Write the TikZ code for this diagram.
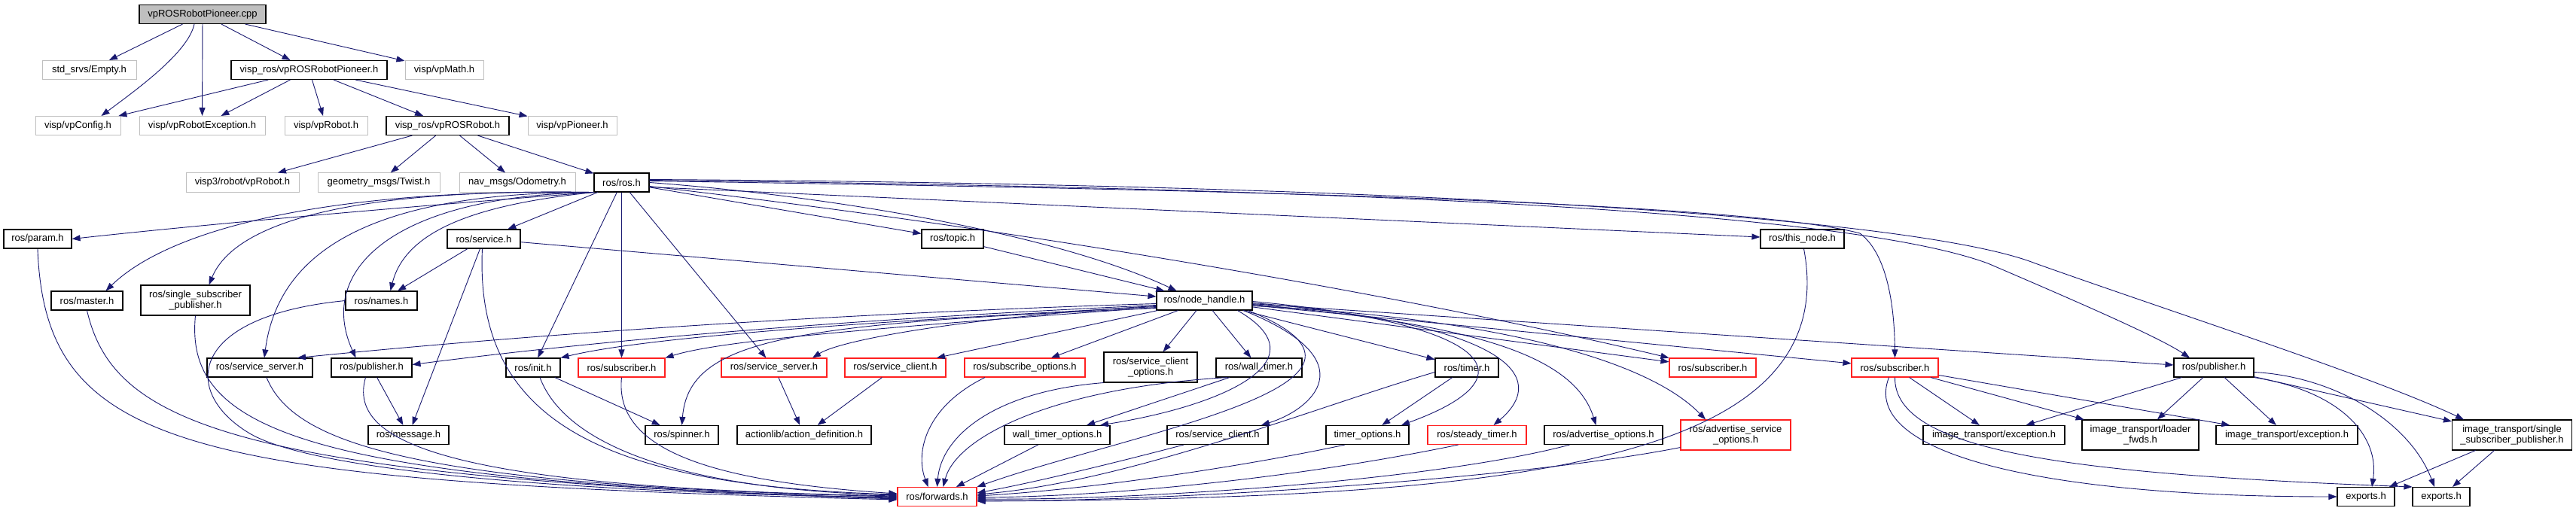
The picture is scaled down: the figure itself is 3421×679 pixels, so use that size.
\documentclass[tikz,border=0pt]{standalone}
\usepackage{fontspec}
\setmainfont{Liberation Sans}
\usetikzlibrary{arrows.meta}
\definecolor{edgeblue}{HTML}{191970}
\definecolor{greyline}{HTML}{BFBFBF}
\definecolor{redline}{HTML}{FF2020}
\newcommand\nodefont{\fontsize{13}{14}\selectfont}
\begin{document}
\begin{tikzpicture}[x=1pt,y=-1pt,
  box/.style={rectangle, minimum height=25pt, inner sep=0pt, font=\nodefont, text=black},
  bk/.style={box, draw=black, line width=1.1pt},
  gy/.style={box, draw=greyline, line width=1pt},
  rd/.style={box, draw=redline, line width=1.1pt},
  twoline/.style={minimum height=40pt, align=center},
  e/.style={draw=edgeblue, line width=0.9pt, -{Triangle[length=11pt,width=8pt]}}]
\useasboundingbox (0,0) rectangle (3421,679);
\fill[white] (0,0) rectangle (3421,679);
% ---------- nodes ----------
\node[bk,fill=greyline,minimum width=168pt] (cpp) at (269,19) {vpROSRobotPioneer.cpp};
\node[gy,minimum width=125pt] (empty) at (118.5,93) {std\_srvs/Empty.h};
\node[bk,minimum width=207pt] (pioneerh) at (410.5,93) {visp\_ros/vpROSRobotPioneer.h};
\node[gy,minimum width=104pt] (vpmath) at (590,93) {visp/vpMath.h};
\node[gy,minimum width=113pt] (vpconfig) at (103.5,167) {visp/vpConfig.h};
\node[gy,minimum width=167pt] (vprobexc) at (268.5,167) {visp/vpRobotException.h};
\node[gy,minimum width=110pt] (vprobot) at (433,167) {visp/vpRobot.h};
\node[bk,minimum width=163pt] (rosrobot) at (594.5,167) {visp\_ros/vpROSRobot.h};
\node[gy,minimum width=118pt] (vppioneer) at (760,167) {visp/vpPioneer.h};
\node[gy,minimum width=150pt] (visp3) at (322,242.5) {visp3/robot/vpRobot.h};
\node[gy,minimum width=162pt] (twist) at (503,242.5) {geometry\_msgs/Twist.h};
\node[gy,minimum width=154pt] (odom) at (687,242.5) {nav\_msgs/Odometry.h};
\node[bk,minimum width=73pt] (rosh) at (825.5,242.5) {ros/ros.h};
\node[bk,minimum width=90pt] (param) at (50,317.5) {ros/param.h};
\node[bk,minimum width=97pt] (service) at (642.5,317.5) {ros/service.h};
\node[bk,minimum width=82pt] (topic) at (1265,317.5) {ros/topic.h};
\node[bk,minimum width=111pt] (thisnode) at (2393.5,317.5) {ros/this\_node.h};
\node[bk,minimum width=95pt] (master) at (115.5,399.5) {ros/master.h};
\node[bk,twoline,minimum width=145pt] (ssp) at (259.5,399) {ros/single\_subscriber\\\_publisher.h};
\node[bk,minimum width=95pt] (names) at (506.5,399.5) {ros/names.h};
\node[bk,minimum width=127pt] (nh) at (1599.5,399.5) {ros/node\_handle.h};
\node[bk,minimum width=140pt] (ssrv) at (345,488.5) {ros/service\_server.h};
\node[bk,minimum width=107pt] (pubL) at (493.5,488.5) {ros/publisher.h};
\node[bk,minimum width=72pt] (init) at (708,488.5) {ros/init.h};
\node[rd,minimum width=115pt] (subL) at (825.5,488.5) {ros/subscriber.h};
\node[rd,minimum width=140pt] (ssrvR) at (1028,488.5) {ros/service\_server.h};
\node[rd,minimum width=134pt] (sclR) at (1189,488.5) {ros/service\_client.h};
\node[rd,minimum width=160pt] (subopt) at (1361,488.5) {ros/subscribe\_options.h};
\node[bk,twoline,minimum width=124pt] (sclopt) at (1528,488) {ros/service\_client\\\_options.h};
\node[bk,minimum width=114pt] (walltimer) at (1672,488.5) {ros/wall\_timer.h};
\node[bk,minimum width=84pt] (timer) at (1948,488.5) {ros/timer.h};
\node[rd,minimum width=115pt] (subM) at (2274.5,488.5) {ros/subscriber.h};
\node[rd,minimum width=115pt] (subR) at (2516.5,488.5) {ros/subscriber.h};
\node[bk,minimum width=106pt] (pubR) at (2940,488.5) {ros/publisher.h};
\node[bk,minimum width=107pt] (message) at (542.5,578) {ros/message.h};
\node[bk,minimum width=97pt] (spinner) at (905.5,578) {ros/spinner.h};
\node[bk,minimum width=178pt] (actionlib) at (1068,578) {actionlib/action\_definition.h};
\node[bk,minimum width=140pt] (wto) at (1404,578) {wall\_timer\_options.h};
\node[bk,minimum width=134pt] (scl) at (1617,578) {ros/service\_client.h};
\node[bk,minimum width=110pt] (tto) at (1816,578) {timer\_options.h};
\node[rd,minimum width=131pt] (steady) at (1961.5,578) {ros/steady\_timer.h};
\node[bk,minimum width=157pt] (advopt) at (2129.5,578) {ros/advertise\_options.h};
\node[rd,twoline,minimum width=146pt] (advsrv) at (2305,578) {ros/advertise\_service\\\_options.h};
\node[bk,minimum width=188pt] (itexc1) at (2648,578) {image\_transport/exception.h};
\node[bk,twoline,minimum width=155pt] (loader) at (2842.5,578) {image\_transport/loader\\\_fwds.h};
\node[bk,minimum width=188pt] (itexc2) at (3037,578) {image\_transport/exception.h};
\node[bk,twoline,minimum width=159pt] (itssp) at (3336,578) {image\_transport/single\\\_subscriber\_publisher.h};
\node[rd,minimum width=105pt] (fwd) at (1244.5,660) {ros/forwards.h};
\node[bk,minimum width=76pt] (exp1) at (3142,660) {exports.h};
\node[bk,minimum width=76pt] (exp2) at (3242,660) {exports.h};
% ---------- top edges ----------
\draw[e] (cpp) -- (empty);
\draw[e] ([xshift=-11pt]cpp.south) .. controls (250,70) and (180,120) .. ([xshift=31pt]vpconfig.north);
\draw[e] (cpp) -- (vprobexc);
\draw[e] (cpp) -- (pioneerh);
\draw[e] (cpp) -- (vpmath);
\draw[e] (pioneerh) -- (vpconfig);
\draw[e] (pioneerh) -- (vprobexc);
\draw[e] (pioneerh) -- (vprobot);
\draw[e] (pioneerh) -- (rosrobot);
\draw[e] (pioneerh) -- (vppioneer);
\draw[e] (rosrobot) -- (visp3);
\draw[e] (rosrobot) -- (twist);
\draw[e] (rosrobot) -- (odom);
\draw[e] (rosrobot) -- (rosh);
% ---------- ros.h edges ----------
\draw[e] (rosh.south west) .. controls (600,270) and (300,295) .. (param.east);
\draw[e] (rosh.south west) .. controls (450,250) and (230,300) .. ([xshift=25pt]master.north);
\draw[e] (rosh.south west) .. controls (450,250) and (310,300) .. ([xshift=18pt]ssp.north);
\draw[e] (rosh.south west) .. controls (500,255) and (370,330) .. ([xshift=6pt]ssrv.north);
\draw[e] (rosh.south west) .. controls (520,260) and (420,360) .. ([xshift=-21pt]pubL.north);
\draw[e] (rosh.south west) .. controls (650,270) and (540,300) .. ([xshift=12pt]names.north);
\draw[e] (rosh) -- (service);
\draw[e] (rosh) -- (init);
\draw[e] (rosh) -- (subL);
\draw[e] (rosh) -- (ssrvR);
\draw[e] (rosh) -- (topic);
\draw[e] (rosh.east) .. controls (1100,260) and (1400,310) .. ([xshift=-37pt]nh.north);
\draw[e] ([yshift=-6pt]rosh.east) -- (thisnode);
\draw[e] ([yshift=-5pt]rosh.east) .. controls (1400,310) and (1900,400) .. (subM.north west);
\draw[e] ([yshift=2pt]rosh.east) .. controls (1500,250) and (2300,265) .. (2470,310) .. controls (2510,340) and (2516,420) .. (subR.north);
\draw[e] ([yshift=3pt]rosh.east) .. controls (1800,250) and (2450,280) .. (2640,350) .. controls (2780,410) and (2870,450) .. ([xshift=-32pt]pubR.north);
\draw[e] ([yshift=4pt]rosh.east) .. controls (1900,245) and (2550,290) .. (2703,350) .. controls (2900,420) and (3150,500) .. ([xshift=-64pt]itssp.north);
% ---------- service / topic / this_node ----------
\draw[e] (service) -- (names);
\draw[e] (service) -- (message);
\draw[e] ([xshift=-2pt]service.south) .. controls (630,560) and (800,645) .. ([yshift=3pt]fwd.west);
\draw[e] (service) -- (nh);
\draw[e] (topic) -- (nh);
\draw[e] ([xshift=2pt]thisnode.south) .. controls (2450,620) and (2000,662) .. ([yshift=-6pt]fwd.east);
% ---------- left nodes to forwards ----------
\draw[e] (param.south) .. controls (60,600) and (250,640) .. ([yshift=-4pt]fwd.west);
\draw[e] (master.south) .. controls (150,560) and (300,635) .. ([yshift=-3pt]fwd.west);
\draw[e] (ssp.south) .. controls (245,570) and (400,640) .. ([yshift=-2pt]fwd.west);
\draw[e] (names.west) .. controls (250,420) and (240,520) .. (330,575) .. controls (420,630) and (800,655) .. ([yshift=-1pt]fwd.west);
\draw[e] ([xshift=9pt]ssrv.south) .. controls (390,590) and (550,645) .. (fwd.west);
\draw[e] ([xshift=-8pt]pubL.south) .. controls (460,590) and (600,648) .. ([yshift=1pt]fwd.west);
\draw[e] ([xshift=9pt]init.south) .. controls (750,590) and (900,650) .. ([yshift=2pt]fwd.west);
\draw[e] (subL.south) .. controls (815,600) and (950,640) .. ([yshift=4pt]fwd.west);
\draw[e] (pubL) -- (message);
\draw[e] (init) -- (spinner);
\draw[e] (ssrvR) -- (actionlib);
\draw[e] (sclR) -- (actionlib);
% ---------- node_handle edges ----------
\draw[e] ([yshift=-4pt]nh.west) .. controls (1000,420) and (600,455) .. ([xshift=50pt]ssrv.north);
\draw[e] ([yshift=-6pt]nh.west) .. controls (1000,430) and (700,465) .. ([yshift=4pt]pubL.east);
\draw[e] ([yshift=-8pt]nh.west) .. controls (1100,430) and (850,450) .. (init.north east);
\draw[e] ([yshift=-9pt]nh.west) .. controls (1100,440) and (950,455) .. (subL.north east);
\draw[e] ([yshift=-10pt]nh.west) .. controls (1050,430) and (915,450) .. (spinner.north);
\draw[e] ([yshift=-7pt]nh.west) .. controls (1300,420) and (1120,450) .. ([xshift=51pt]ssrvR.north);
\draw[e] ([xshift=2pt]nh.south west) -- ([xshift=55pt]sclR.north);
\draw[e] (nh) -- (subopt);
\draw[e] (nh) -- (sclopt);
\draw[e] (nh) -- (walltimer);
\draw[e] (nh) -- (timer);
\draw[e] (nh) -- (subM);
\draw[e] (nh) -- (subR);
\draw[e] (nh) -- (pubR);
\draw[e] ([xshift=44pt]nh.south) .. controls (1760,480) and (1620,540) .. ([xshift=57pt]wto.north);
\draw[e] ([xshift=52pt]nh.south) .. controls (1820,480) and (1740,545) .. ([xshift=58pt]scl.north);
\draw[e] ([xshift=58pt]nh.south) .. controls (1900,510) and (1500,575) .. (fwd.north east);
\draw[e] ([yshift=-1pt]nh.east) .. controls (1980,430) and (2040,500) .. ([xshift=45pt]tto.north);
\draw[e] ([yshift=-3pt]nh.east) .. controls (2000,430) and (2060,500) .. ([xshift=22pt]steady.north);
\draw[e] ([yshift=-5pt]nh.east) .. controls (1950,430) and (2090,470) .. ([xshift=-10pt]advopt.north);
\draw[e] ([yshift=-7pt]nh.east) .. controls (1950,420) and (2180,470) .. ([xshift=-40pt]advsrv.north);
% ---------- middle row to forwards ----------
\draw[e] ([xshift=-53pt]subopt.south) .. controls (1230,540) and (1215,600) .. ([xshift=-12pt]fwd.north);
\draw[e] (sclopt.south west) .. controls (1320,520) and (1250,580) .. (fwd.north);
\draw[e] ([xshift=-42pt]walltimer.south) .. controls (1400,515) and (1270,580) .. ([xshift=8pt]fwd.north);
\draw[e] (walltimer) -- (wto);
\draw[e] (wto) -- (fwd);
\draw[e] ([xshift=-45pt]scl.south) .. controls (1500,610) and (1380,640) .. ([yshift=5pt]fwd.east);
\draw[e] (timer) -- (tto);
\draw[e] ([yshift=-6pt]timer.west) .. controls (1750,540) and (1500,640) .. ([yshift=3pt]fwd.east);
\draw[e] ([xshift=-30pt]tto.south) .. controls (1650,620) and (1450,650) .. ([yshift=1pt]fwd.east);
\draw[e] ([xshift=-25pt]steady.south) .. controls (1700,640) and (1450,660) .. ([yshift=-1pt]fwd.east);
\draw[e] ([xshift=-45pt]advopt.south) .. controls (1900,640) and (1500,665) .. ([yshift=-3pt]fwd.east);
\draw[e] ([yshift=4pt]advsrv.south west) .. controls (2000,640) and (1500,668) .. ([yshift=-5pt]fwd.east);
% ---------- right part ----------
\draw[e] (subR) -- (itexc1);
\draw[e] (subR) -- (loader);
\draw[e] (subR) -- (itexc2);
\draw[e] ([xshift=-8pt]subR.south) .. controls (2470,600) and (2700,660) .. (exp1.west);
\draw[e] (subR.south) .. controls (2515,600) and (2750,630) .. (exp2.north west);
\draw[e] (pubR) -- (itexc1);
\draw[e] (pubR) -- (loader);
\draw[e] (pubR) -- (itexc2);
\draw[e] (pubR) -- (itssp);
\draw[e] (pubR.south east) .. controls (3110,520) and (3160,580) .. ([xshift=8pt]exp1.north);
\draw[e] ([yshift=-6pt]pubR.east) .. controls (3100,500) and (3200,560) .. ([xshift=-9pt]exp2.north);
\draw[e] (itssp) -- (exp1);
\draw[e] (itssp) -- (exp2);
\end{tikzpicture}
\end{document}
